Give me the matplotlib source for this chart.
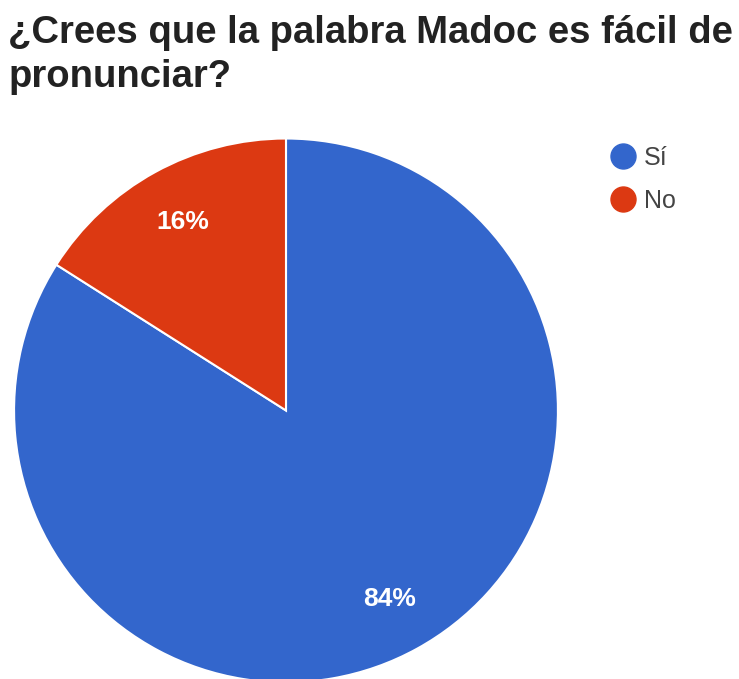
import numpy as np
import matplotlib.pyplot as plt
from matplotlib.lines import Line2D

title = "¿Crees que la palabra Madoc es fácil de\npronunciar?"
labels = ["Sí", "No"]
values = [84, 16]
colors = ["#3366CC", "#DC3912"]

fig = plt.figure(figsize=(7.39, 6.79), dpi=100)
fig.patch.set_facecolor("white")

# pie axes, slightly clipped at the bottom edge
ax = fig.add_axes([0.019, -0.005, 0.736, 0.801])
wedges, texts = ax.pie(values, colors=colors, startangle=90, counterclock=False,
                       wedgeprops=dict(edgecolor="white", linewidth=1.5))
for w, v in zip(wedges, values):
    ang = np.deg2rad((w.theta1 + w.theta2) / 2)
    r = 0.79
    ax.text(r * np.cos(ang), r * np.sin(ang), f"{v}%", ha="center", va="center",
            color="white", fontsize=19, fontweight="bold", family="Liberation Sans")
ax.set_xlim(-1, 1)
ax.set_ylim(-1, 1)
ax.set_aspect("equal")
ax.axis("off")

fig.text(0.011, 0.978, title, ha="left", va="top", fontsize=27.5, fontweight="bold",
         family="Liberation Sans", color="#222222", linespacing=1.3)

handles = [Line2D([], [], marker="o", linestyle="none", markersize=18,
                  markerfacecolor=c, markeredgecolor=c) for c in colors]
leg = fig.legend(handles, labels, loc="upper left", bbox_to_anchor=(0.795, 0.818),
                 frameon=False, handletextpad=0.35, labelspacing=0.75,
                 prop=dict(family="Liberation Sans", size=18), handlelength=1.0)
for t in leg.get_texts():
    t.set_color("#444444")

fig.savefig("out.png", dpi=100, facecolor="white")
